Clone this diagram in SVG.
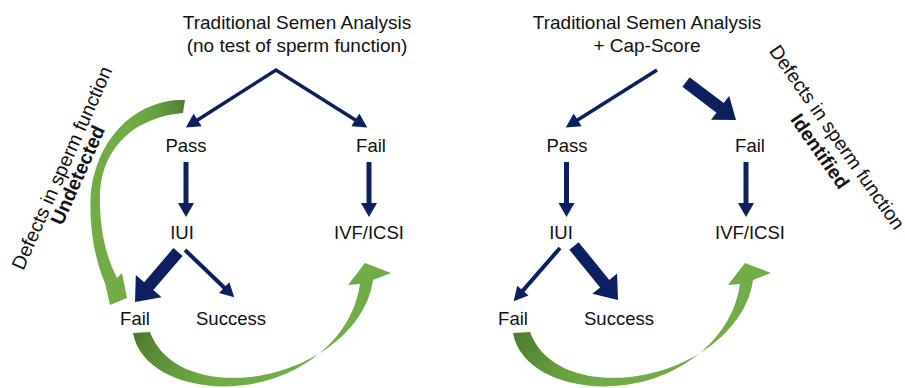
<svg xmlns="http://www.w3.org/2000/svg" width="905" height="388" viewBox="0 0 905 388">
<style>
text{font-family:"Liberation Sans",Arial,sans-serif;fill:#111;text-anchor:middle}
.t{font-size:19px}
.l{font-size:18.5px}
.r{font-size:19.5px}
.b{font-weight:bold}
.nv{stroke:#0c2060;fill:none}
.nf{fill:#0c2060}
</style>
<defs>
<marker id="ah" markerUnits="userSpaceOnUse" orient="auto-start-reverse" markerWidth="20" markerHeight="20" refX="1" refY="0" viewBox="-2 -10 20 20" overflow="visible">
<path d="M0,-7.5 L14,0 L0,7.5 Z" fill="#0c2060"/>
</marker>
<marker id="av" markerUnits="userSpaceOnUse" orient="auto" markerWidth="20" markerHeight="20" refX="1" refY="0" viewBox="-2 -10 20 20" overflow="visible">
<path d="M0,-8 L14,0 L0,8 Z" fill="#0c2060"/>
</marker>
<linearGradient id="gTop" gradientUnits="userSpaceOnUse" x1="185" y1="106" x2="128" y2="118">
<stop offset="0" stop-color="#4f7d2f"/>
<stop offset="0.55" stop-color="#68a242"/>
<stop offset="1" stop-color="#70ad47"/>
</linearGradient>
<linearGradient id="gBot" gradientUnits="userSpaceOnUse" x1="138" y1="335" x2="215" y2="386">
<stop offset="0" stop-color="#4f7d2f"/>
<stop offset="0.6" stop-color="#65a040"/>
<stop offset="1" stop-color="#70ad47"/>
</linearGradient>
<path id="botArc" d="M133,333 C140,372 192,392 245,385 C300,378 352,340 360,284 L348,285 L365,263 L391,273 L373,280 C366,330 312,370 250,377 C200,382 162,365 150,332 Z"/>
</defs>

<g id="connectors">
<!-- left panel -->
<polyline class="nv" stroke-width="3.5" stroke-linejoin="miter" points="196.8,120.5 276,70 356.2,120.5" marker-start="url(#ah)" marker-end="url(#ah)"/>
<line class="nv" stroke-width="5" x1="186" y1="162" x2="186" y2="204" marker-end="url(#av)"/>
<line class="nv" stroke-width="5" x1="369" y1="162" x2="369" y2="204" marker-end="url(#av)"/>
<polygon class="nf" points="182.6,255.9 153.3,290.0 161.6,297.2 135,302 135.8,275.0 144.2,282.2 173.4,248.1"/>
<line class="nv" stroke-width="4" x1="185" y1="250" x2="224.9" y2="288.3" marker-end="url(#ah)"/>
<path fill="url(#gTop)" d="M185,100 C145,98 100,128 91,190 C88,230 97,265 105,283 L110,305 L127,298 L122,273 L117,278 C105,255 99,225 100,192 C103,145 137,117 183,113 Z"/>
<use href="#botArc" fill="url(#gBot)"/>
<!-- right panel -->
<line class="nv" stroke-width="3.5" x1="657" y1="70" x2="576.8" y2="120.5" marker-end="url(#ah)"/>
<polygon class="nf" points="682.4,86.8 716.5,112.7 711.0,119.8 736,120 729.2,96.0 723.7,103.1 689.6,77.2"/>
<line class="nv" stroke-width="5" x1="566.5" y1="162" x2="566.5" y2="204" marker-end="url(#av)"/>
<line class="nv" stroke-width="5" x1="746" y1="162" x2="746" y2="204" marker-end="url(#av)"/>
<line class="nv" stroke-width="4" x1="560" y1="248" x2="522.2" y2="291.4" marker-end="url(#ah)"/>
<polygon class="nf" points="569.4,249.8 600.1,287.5 592.3,293.8 618,300 617.1,273.6 609.3,279.9 578.6,242.2"/>
<g transform="translate(380,0)"><use href="#botArc" fill="url(#gBot)"/></g>
</g>

<g id="left-title"><text class="t" x="297" y="29">Traditional Semen Analysis</text><text class="t" x="297" y="52">(no test of sperm function)</text></g>
<g id="left-pass"><text class="l" x="186" y="152">Pass</text></g>
<g id="left-fail"><text class="l" x="371" y="152">Fail</text></g>
<g id="left-iui"><text class="l" x="182" y="239">IUI</text></g>
<g id="left-ivf"><text class="l" x="369" y="239">IVF/ICSI</text></g>
<g id="left-fail2"><text class="l" x="135" y="325">Fail</text></g>
<g id="left-success"><text class="l" x="231" y="325">Success</text></g>
<g id="left-note"><text class="r" transform="translate(67.9,170.7) rotate(-66)">Defects in sperm function</text><text class="r b" transform="translate(83.8,177.8) rotate(-66)">Undetected</text></g>

<g id="right-title"><text class="t" x="647" y="29">Traditional Semen Analysis</text><text class="t" x="647" y="52">+ Cap-Score</text></g>
<g id="right-pass"><text class="l" x="567" y="152">Pass</text></g>
<g id="right-fail"><text class="l" x="750" y="152">Fail</text></g>
<g id="right-iui"><text class="l" x="561" y="239">IUI</text></g>
<g id="right-ivf"><text class="l" x="750" y="239">IVF/ICSI</text></g>
<g id="right-fail2"><text class="l" x="513" y="325">Fail</text></g>
<g id="right-success"><text class="l" x="619" y="325">Success</text></g>
<g id="right-note"><text class="r" transform="translate(831.5,141) rotate(55)">Defects in sperm function</text><text class="r b" transform="translate(814.5,155) rotate(55)">Identified</text></g>
</svg>
